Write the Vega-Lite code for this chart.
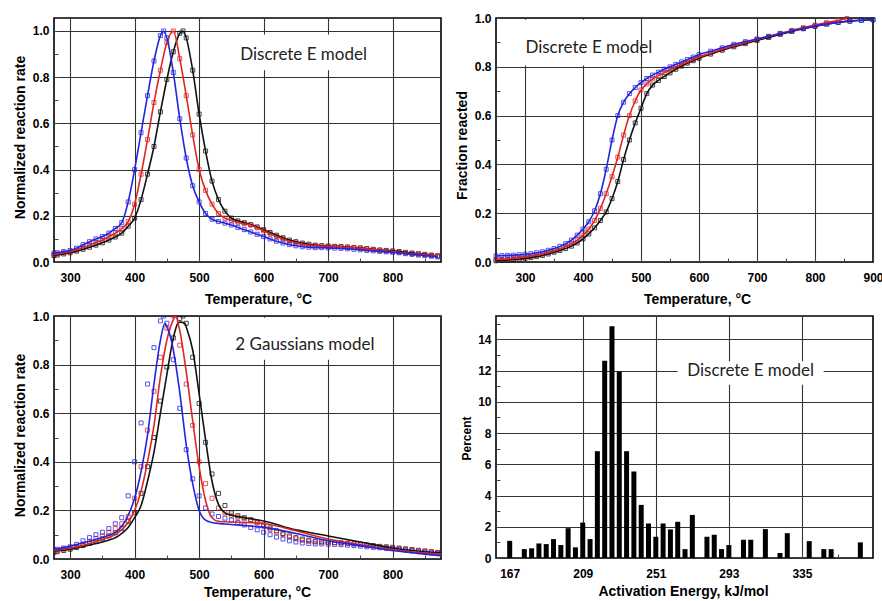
{
  "$schema": "https://vega.github.io/schema/vega-lite/v6.json",
  "background": "white",
  "padding": {"left": 12, "top": 11, "right": 5, "bottom": 5},
  "bounds": "flush",
  "columns": 2,
  "spacing": {"row": 54, "column": 55},
  "config": {
    "view": {"stroke": "#000", "strokeWidth": 1.6},
    "axis": {
      "labelFont": "Liberation Sans", "labelFontWeight": "bold", "labelFontSize": 12, "labelColor": "#000",
      "titleFont": "Liberation Sans", "titleFontWeight": "bold", "titleFontSize": 14, "titleColor": "#000",
      "domain": false, "grid": true, "gridColor": "#333333", "gridWidth": 1.1,
      "ticks": true, "tickSize": -4, "tickColor": "#444", "tickWidth": 1, "tickCount": 100,
      "labelFlush": false, "labelOverlap": false
    },
    "axisX": {"labelPadding": 14},
    "axisY": {"labelPadding": 9}
  },
  "datasets": {
    "exp": [
      {"T": 275, "B": 0.038, "R": 0.033, "K": 0.028},
      {"T": 280, "B": 0.04, "R": 0.035, "K": 0.03},
      {"T": 290, "B": 0.045, "R": 0.04, "K": 0.035},
      {"T": 300, "B": 0.05, "R": 0.045, "K": 0.04},
      {"T": 310, "B": 0.06, "R": 0.052, "K": 0.047},
      {"T": 320, "B": 0.075, "R": 0.062, "K": 0.055},
      {"T": 330, "B": 0.088, "R": 0.073, "K": 0.064},
      {"T": 340, "B": 0.1, "R": 0.085, "K": 0.073},
      {"T": 350, "B": 0.11, "R": 0.095, "K": 0.083},
      {"T": 360, "B": 0.125, "R": 0.11, "K": 0.095},
      {"T": 370, "B": 0.145, "R": 0.125, "K": 0.108},
      {"T": 380, "B": 0.17, "R": 0.145, "K": 0.125},
      {"T": 390, "B": 0.26, "R": 0.175, "K": 0.155},
      {"T": 400, "B": 0.4, "R": 0.25, "K": 0.19},
      {"T": 410, "B": 0.56, "R": 0.38, "K": 0.27},
      {"T": 420, "B": 0.72, "R": 0.53, "K": 0.38},
      {"T": 430, "B": 0.87, "R": 0.69, "K": 0.5},
      {"T": 440, "B": 0.98, "R": 0.83, "K": 0.65},
      {"T": 445, "B": 1.0},
      {"T": 450, "B": 0.97, "R": 0.95, "K": 0.79},
      {"T": 460, "B": 0.82, "R": 1.0, "K": 0.91},
      {"T": 470, "B": 0.62, "R": 0.88, "K": 0.99},
      {"T": 475, "K": 1.0},
      {"T": 480, "B": 0.45, "R": 0.72, "K": 0.97},
      {"T": 490, "B": 0.33, "R": 0.55, "K": 0.83},
      {"T": 500, "B": 0.26, "R": 0.4, "K": 0.64},
      {"T": 510, "B": 0.21, "R": 0.31, "K": 0.48},
      {"T": 520, "B": 0.185, "R": 0.25, "K": 0.35},
      {"T": 530, "B": 0.175, "R": 0.21, "K": 0.27},
      {"T": 540, "B": 0.168, "R": 0.19, "K": 0.22},
      {"T": 550, "B": 0.16, "R": 0.18, "K": 0.19},
      {"T": 560, "B": 0.15, "R": 0.172, "K": 0.178},
      {"T": 570, "B": 0.14, "R": 0.165, "K": 0.17},
      {"T": 580, "B": 0.13, "R": 0.16, "K": 0.162},
      {"T": 590, "B": 0.12, "R": 0.148, "K": 0.152},
      {"T": 600, "B": 0.11, "R": 0.135, "K": 0.14},
      {"T": 610, "B": 0.1, "R": 0.122, "K": 0.128},
      {"T": 620, "B": 0.09, "R": 0.11, "K": 0.116},
      {"T": 630, "B": 0.082, "R": 0.1, "K": 0.105},
      {"T": 640, "B": 0.075, "R": 0.09, "K": 0.095},
      {"T": 650, "B": 0.07, "R": 0.083, "K": 0.088},
      {"T": 660, "B": 0.066, "R": 0.077, "K": 0.082},
      {"T": 670, "B": 0.064, "R": 0.073, "K": 0.077},
      {"T": 680, "B": 0.062, "R": 0.07, "K": 0.073},
      {"T": 690, "B": 0.062, "R": 0.069, "K": 0.071},
      {"T": 700, "B": 0.061, "R": 0.068, "K": 0.069},
      {"T": 710, "B": 0.06, "R": 0.067, "K": 0.068},
      {"T": 720, "B": 0.059, "R": 0.066, "K": 0.067},
      {"T": 730, "B": 0.057, "R": 0.064, "K": 0.065},
      {"T": 740, "B": 0.055, "R": 0.062, "K": 0.063},
      {"T": 750, "B": 0.053, "R": 0.06, "K": 0.061},
      {"T": 760, "B": 0.05, "R": 0.057, "K": 0.058},
      {"T": 770, "B": 0.048, "R": 0.054, "K": 0.055},
      {"T": 780, "B": 0.046, "R": 0.051, "K": 0.052},
      {"T": 790, "B": 0.044, "R": 0.048, "K": 0.05},
      {"T": 800, "B": 0.042, "R": 0.045, "K": 0.048},
      {"T": 810, "B": 0.04, "R": 0.042, "K": 0.045},
      {"T": 820, "B": 0.036, "R": 0.039, "K": 0.042},
      {"T": 830, "B": 0.033, "R": 0.036, "K": 0.039},
      {"T": 840, "B": 0.03, "R": 0.034, "K": 0.036},
      {"T": 850, "B": 0.028, "R": 0.032, "K": 0.033},
      {"T": 860, "B": 0.025, "R": 0.029, "K": 0.03},
      {"T": 870, "B": 0.022, "R": 0.026, "K": 0.027}
    ],
    "g2": [
      {"T": 275, "B": 0.038, "R": 0.035, "K": 0.033},
      {"T": 300, "B": 0.053, "R": 0.045, "K": 0.04},
      {"T": 325, "B": 0.07, "R": 0.06, "K": 0.055},
      {"T": 350, "B": 0.088, "R": 0.08, "K": 0.07},
      {"T": 375, "B": 0.12, "R": 0.11, "K": 0.095},
      {"T": 390, "B": 0.18, "R": 0.15, "K": 0.13},
      {"T": 400, "B": 0.25, "R": 0.2, "K": 0.17},
      {"T": 410, "B": 0.36, "R": 0.28, "K": 0.22},
      {"T": 420, "B": 0.51, "R": 0.4, "K": 0.32},
      {"T": 430, "B": 0.72, "R": 0.55, "K": 0.44},
      {"T": 440, "B": 0.9, "R": 0.75, "K": 0.6},
      {"T": 447, "B": 0.97},
      {"T": 450, "B": 0.955, "R": 0.9, "K": 0.76},
      {"T": 455, "B": 0.92},
      {"T": 460, "B": 0.86, "R": 0.985, "K": 0.91},
      {"T": 463, "R": 1.0},
      {"T": 467, "K": 0.97},
      {"T": 470, "B": 0.685, "R": 0.94, "K": 0.975},
      {"T": 478, "K": 0.97},
      {"T": 480, "B": 0.47, "R": 0.77, "K": 0.955},
      {"T": 490, "B": 0.31, "R": 0.57, "K": 0.86},
      {"T": 500, "B": 0.2, "R": 0.38, "K": 0.68},
      {"T": 510, "B": 0.16, "R": 0.24, "K": 0.49},
      {"T": 520, "B": 0.15, "R": 0.17, "K": 0.32},
      {"T": 530, "B": 0.146, "R": 0.155, "K": 0.225},
      {"T": 540, "B": 0.144, "R": 0.153, "K": 0.19},
      {"T": 550, "B": 0.142, "R": 0.152, "K": 0.18},
      {"T": 575, "B": 0.137, "R": 0.15, "K": 0.168},
      {"T": 600, "B": 0.13, "R": 0.146, "K": 0.156},
      {"T": 650, "B": 0.105, "R": 0.116, "K": 0.12},
      {"T": 700, "B": 0.075, "R": 0.082, "K": 0.095},
      {"T": 750, "B": 0.055, "R": 0.058, "K": 0.07},
      {"T": 800, "B": 0.035, "R": 0.038, "K": 0.045},
      {"T": 850, "B": 0.02, "R": 0.025, "K": 0.03},
      {"T": 875, "B": 0.014, "R": 0.02, "K": 0.025}
    ],
    "frac": [
      {"T": 250, "B": 0.025, "R": 0.01, "K": 0.005},
      {"T": 260, "B": 0.026, "R": 0.011, "K": 0.006},
      {"T": 270, "B": 0.027, "R": 0.013, "K": 0.008},
      {"T": 280, "B": 0.028, "R": 0.015, "K": 0.01},
      {"T": 290, "B": 0.03, "R": 0.018, "K": 0.012},
      {"T": 300, "B": 0.032, "R": 0.021, "K": 0.015},
      {"T": 310, "B": 0.034, "R": 0.024, "K": 0.018},
      {"T": 320, "B": 0.038, "R": 0.028, "K": 0.022},
      {"T": 330, "B": 0.042, "R": 0.033, "K": 0.027},
      {"T": 340, "B": 0.048, "R": 0.039, "K": 0.033},
      {"T": 350, "B": 0.055, "R": 0.045, "K": 0.04},
      {"T": 360, "B": 0.064, "R": 0.053, "K": 0.047},
      {"T": 370, "B": 0.075, "R": 0.063, "K": 0.055},
      {"T": 380, "B": 0.09, "R": 0.075, "K": 0.065},
      {"T": 390, "B": 0.11, "R": 0.09, "K": 0.078},
      {"T": 400, "B": 0.135, "R": 0.11, "K": 0.095},
      {"T": 410, "B": 0.165, "R": 0.135, "K": 0.115},
      {"T": 420, "B": 0.21, "R": 0.17, "K": 0.14},
      {"T": 430, "B": 0.28, "R": 0.22, "K": 0.17},
      {"T": 440, "B": 0.38, "R": 0.28, "K": 0.205},
      {"T": 450, "B": 0.5, "R": 0.35, "K": 0.26},
      {"T": 460, "B": 0.6, "R": 0.43, "K": 0.33},
      {"T": 470, "B": 0.655, "R": 0.52, "K": 0.42},
      {"T": 480, "B": 0.69, "R": 0.6, "K": 0.5},
      {"T": 490, "B": 0.715, "R": 0.66, "K": 0.57},
      {"T": 500, "B": 0.735, "R": 0.705, "K": 0.63},
      {"T": 510, "B": 0.752, "R": 0.73, "K": 0.69},
      {"T": 520, "B": 0.766, "R": 0.75, "K": 0.725},
      {"T": 530, "B": 0.778, "R": 0.764, "K": 0.744},
      {"T": 540, "B": 0.79, "R": 0.776, "K": 0.76},
      {"T": 550, "B": 0.8, "R": 0.788, "K": 0.775},
      {"T": 560, "B": 0.81, "R": 0.8, "K": 0.79},
      {"T": 570, "B": 0.82, "R": 0.81, "K": 0.803},
      {"T": 580, "B": 0.83, "R": 0.82, "K": 0.815},
      {"T": 590, "B": 0.84, "R": 0.83, "K": 0.825},
      {"T": 600, "B": 0.85, "R": 0.84, "K": 0.835},
      {"T": 620, "B": 0.864, "R": 0.856, "K": 0.852},
      {"T": 640, "B": 0.878, "R": 0.872, "K": 0.868},
      {"T": 660, "B": 0.892, "R": 0.886, "K": 0.882},
      {"T": 680, "B": 0.903, "R": 0.899, "K": 0.895},
      {"T": 700, "B": 0.914, "R": 0.912, "K": 0.908},
      {"T": 720, "B": 0.925, "R": 0.924, "K": 0.92},
      {"T": 740, "B": 0.936, "R": 0.937, "K": 0.933},
      {"T": 760, "B": 0.947, "R": 0.949, "K": 0.945},
      {"T": 780, "B": 0.957, "R": 0.96, "K": 0.956},
      {"T": 800, "B": 0.967, "R": 0.971, "K": 0.966},
      {"T": 820, "B": 0.975, "R": 0.981, "K": 0.975},
      {"T": 840, "B": 0.982, "R": 0.99, "K": 0.982},
      {"T": 855, "R": 0.998},
      {"T": 860, "B": 0.988, "K": 0.987},
      {"T": 880, "B": 0.991, "K": 0.991},
      {"T": 900, "B": 0.993, "K": 0.993}
    ],
    "hist": [
      {"E": 167, "p": 1.1}, {"E": 175.4, "p": 0.57}, {"E": 179.6, "p": 0.62}, {"E": 183.8, "p": 0.93},
      {"E": 188, "p": 0.89}, {"E": 192.2, "p": 1.21}, {"E": 196.4, "p": 0.83}, {"E": 200.6, "p": 1.91},
      {"E": 204.8, "p": 0.68}, {"E": 209, "p": 2.27}, {"E": 213.2, "p": 1.21}, {"E": 217.4, "p": 6.84},
      {"E": 221.6, "p": 12.64}, {"E": 225.8, "p": 14.85}, {"E": 230, "p": 11.94}, {"E": 234.2, "p": 6.84},
      {"E": 238.4, "p": 5.54}, {"E": 242.6, "p": 3.4}, {"E": 246.8, "p": 2.21}, {"E": 251, "p": 1.36},
      {"E": 255.2, "p": 2.21}, {"E": 259.4, "p": 1.83}, {"E": 263.6, "p": 2.32}, {"E": 267.8, "p": 0.57},
      {"E": 272, "p": 2.76}, {"E": 280.4, "p": 1.36}, {"E": 284.6, "p": 1.49}, {"E": 288.8, "p": 0.57},
      {"E": 293, "p": 0.83}, {"E": 301.4, "p": 1.17}, {"E": 305.6, "p": 1.17}, {"E": 314, "p": 1.85},
      {"E": 322.4, "p": 0.32}, {"E": 326.6, "p": 1.59}, {"E": 339.2, "p": 1.08}, {"E": 347.6, "p": 0.57},
      {"E": 351.8, "p": 0.57}, {"E": 368.6, "p": 1.0}
    ]
  },
  "concat": [
    {
      "width": 387, "height": 244,
      "layer": [
        {
          "data": {"values": [{}]},
          "mark": {"type": "rect", "fill": "white"},
          "encoding": {
            "x": {"datum": 560, "type": "quantitative", "title": "Temperature, °C",
              "scale": {"domain": [275, 875], "nice": false, "zero": false},
              "axis": {"values": [300, 350, 400, 450, 500, 550, 600, 650, 700, 750, 800, 850],
                "tickCount": 100, "labelOverlap": false, "format": "d",
                "labelExpr": "datum.value % 100 === 0 ? datum.label : ''",
                "gridOpacity": {"condition": {"test": "datum.value % 100 === 0", "value": 1}, "value": 0},
                "titleX": 204, "titleY": 30, "titleBaseline": "top", "titleAlign": "center"}},
            "x2": {"datum": 775},
            "y": {"datum": 0.83, "type": "quantitative", "title": "Normalized reaction rate",
              "scale": {"domain": [0, 1.056], "nice": false, "zero": false},
              "axis": {"values": [0, 0.1, 0.2, 0.3, 0.4, 0.5, 0.6, 0.7, 0.8, 0.9, 1.0],
                "tickCount": 100, "labelOverlap": false,
                "labelExpr": "round(datum.value * 10) % 2 === 0 ? format(datum.value, '.1f') : ''",
                "gridOpacity": {"condition": {"test": "round(datum.value * 10) % 2 === 0", "value": 1}, "value": 0},
                "titleX": -34, "titleY": 119, "titleAngle": 270, "titleBaseline": "middle", "titleAlign": "center"}},
            "y2": {"datum": 0.985}
          }
        },
        {
          "data": {"name": "exp"},
          "transform": [{"fold": ["K", "R", "B"], "as": ["s", "v"]}, {"filter": "isValid(datum.v)"}],
          "mark": {"type": "point", "shape": "square", "filled": false, "size": 16, "strokeWidth": 0.9, "opacity": 0.85},
          "encoding": {
            "x": {"field": "T", "type": "quantitative", "title": "Temperature, °C"},
            "y": {"field": "v", "type": "quantitative", "title": "Normalized reaction rate"},
            "color": {"field": "s", "type": "nominal", "legend": null,
              "scale": {"domain": ["K", "R", "B"], "range": ["#111111", "#e02424", "#2424e0"]}}
          }
        },
        {
          "data": {"name": "exp"},
          "transform": [{"fold": ["K", "R", "B"], "as": ["s", "v"]}, {"filter": "isValid(datum.v)"}],
          "mark": {"type": "line", "interpolate": "monotone", "strokeWidth": 1.6},
          "encoding": {
            "x": {"field": "T", "type": "quantitative", "title": "Temperature, °C"},
            "y": {"field": "v", "type": "quantitative", "title": "Normalized reaction rate"},
            "color": {"field": "s", "type": "nominal", "legend": null}
          }
        },
        {
          "data": {"values": [{}]},
          "mark": {"type": "text", "font": "Lato", "fontSize": 17, "color": "#222", "align": "center", "baseline": "middle"},
          "encoding": {
            "x": {"datum": 662, "type": "quantitative"},
            "y": {"datum": 0.896, "type": "quantitative"},
            "text": {"value": "Discrete E model"}
          }
        }
      ]
    },
    {
      "width": 377, "height": 244,
      "layer": [
        {
          "data": {"values": [{}]},
          "mark": {"type": "rect", "fill": "white"},
          "encoding": {
            "x": {"datum": 262, "type": "quantitative", "title": "Temperature, °C",
              "scale": {"domain": [250, 900], "nice": false, "zero": false},
              "axis": {"values": [250, 300, 350, 400, 450, 500, 550, 600, 650, 700, 750, 800, 850, 900],
                "tickCount": 100, "labelOverlap": false, "format": "d",
                "labelExpr": "datum.value % 100 === 0 ? datum.label : ''",
                "gridOpacity": {"condition": {"test": "datum.value % 100 === 0", "value": 1}, "value": 0},
                "titleX": 201, "titleY": 30, "titleBaseline": "top", "titleAlign": "center"}},
            "x2": {"datum": 480},
            "y": {"datum": 0.805, "type": "quantitative", "title": "Fraction reacted",
              "scale": {"domain": [0, 1], "nice": false, "zero": false},
              "axis": {"values": [0, 0.1, 0.2, 0.3, 0.4, 0.5, 0.6, 0.7, 0.8, 0.9, 1.0],
                "tickCount": 100, "labelOverlap": false,
                "labelExpr": "round(datum.value * 10) % 2 === 0 ? format(datum.value, '.1f') : ''",
                "gridOpacity": {"condition": {"test": "round(datum.value * 10) % 2 === 0", "value": 1}, "value": 0},
                "titleX": -34, "titleY": 127, "titleAngle": 270, "titleBaseline": "middle", "titleAlign": "center"}},
            "y2": {"datum": 0.993}
          }
        },
        {
          "data": {"name": "frac"},
          "transform": [{"fold": ["K", "R", "B"], "as": ["s", "v"]}, {"filter": "isValid(datum.v)"}],
          "mark": {"type": "point", "shape": "square", "filled": false, "size": 16, "strokeWidth": 0.9, "opacity": 0.85},
          "encoding": {
            "x": {"field": "T", "type": "quantitative", "title": "Temperature, °C"},
            "y": {"field": "v", "type": "quantitative", "title": "Fraction reacted"},
            "color": {"field": "s", "type": "nominal", "legend": null,
              "scale": {"domain": ["K", "R", "B"], "range": ["#111111", "#e02424", "#2424e0"]}}
          }
        },
        {
          "data": {"name": "frac"},
          "transform": [{"fold": ["K", "R", "B"], "as": ["s", "v"]}, {"filter": "isValid(datum.v)"}],
          "mark": {"type": "line", "interpolate": "monotone", "strokeWidth": 1.6},
          "encoding": {
            "x": {"field": "T", "type": "quantitative", "title": "Temperature, °C"},
            "y": {"field": "v", "type": "quantitative", "title": "Fraction reacted"},
            "color": {"field": "s", "type": "nominal", "legend": null}
          }
        },
        {
          "data": {"values": [{}]},
          "mark": {"type": "text", "font": "Lato", "fontSize": 17, "color": "#222", "align": "center", "baseline": "middle"},
          "encoding": {
            "x": {"datum": 410, "type": "quantitative"},
            "y": {"datum": 0.879, "type": "quantitative"},
            "text": {"value": "Discrete E model"}
          }
        }
      ]
    },
    {
      "width": 387, "height": 243,
      "layer": [
        {
          "data": {"values": [{}]},
          "mark": {"type": "rect", "fill": "white"},
          "encoding": {
            "x": {"datum": 560, "type": "quantitative", "title": "Temperature, °C",
              "scale": {"domain": [275, 875], "nice": false, "zero": false},
              "axis": {"values": [300, 350, 400, 450, 500, 550, 600, 650, 700, 750, 800, 850],
                "tickCount": 100, "labelOverlap": false, "format": "d",
                "labelExpr": "datum.value % 100 === 0 ? datum.label : ''",
                "gridOpacity": {"condition": {"test": "datum.value % 100 === 0", "value": 1}, "value": 0},
                "titleX": 203, "titleY": 26, "titleBaseline": "top", "titleAlign": "center"}},
            "x2": {"datum": 775},
            "y": {"datum": 0.82, "type": "quantitative", "title": "Normalized reaction rate",
              "scale": {"domain": [0, 1], "nice": false, "zero": false},
              "axis": {"values": [0, 0.1, 0.2, 0.3, 0.4, 0.5, 0.6, 0.7, 0.8, 0.9, 1.0],
                "tickCount": 100, "labelOverlap": false,
                "labelExpr": "round(datum.value * 10) % 2 === 0 ? format(datum.value, '.1f') : ''",
                "gridOpacity": {"condition": {"test": "round(datum.value * 10) % 2 === 0", "value": 1}, "value": 0},
                "titleX": -34, "titleY": 119, "titleAngle": 270, "titleBaseline": "middle", "titleAlign": "center"}},
            "y2": {"datum": 0.993}
          }
        },
        {
          "data": {"name": "exp"},
          "transform": [{"fold": ["K", "R", "B"], "as": ["s", "v"]}, {"filter": "isValid(datum.v)"}],
          "mark": {"type": "point", "shape": "square", "filled": false, "size": 16, "strokeWidth": 0.9, "opacity": 0.85, "clip": true},
          "encoding": {
            "x": {"field": "T", "type": "quantitative", "title": "Temperature, °C"},
            "y": {"field": "v", "type": "quantitative", "title": "Normalized reaction rate"},
            "color": {"field": "s", "type": "nominal", "legend": null,
              "scale": {"domain": ["K", "R", "B"], "range": ["#111111", "#e02424", "#2424e0"]}}
          }
        },
        {
          "data": {"name": "g2"},
          "transform": [{"fold": ["K", "R", "B"], "as": ["s", "v"]}, {"filter": "isValid(datum.v)"}],
          "mark": {"type": "line", "interpolate": "monotone", "strokeWidth": 1.6},
          "encoding": {
            "x": {"field": "T", "type": "quantitative", "title": "Temperature, °C"},
            "y": {"field": "v", "type": "quantitative", "title": "Normalized reaction rate"},
            "color": {"field": "s", "type": "nominal", "legend": null}
          }
        },
        {
          "data": {"values": [{}]},
          "mark": {"type": "text", "font": "Lato", "fontSize": 17, "color": "#222", "align": "center", "baseline": "middle"},
          "encoding": {
            "x": {"datum": 664, "type": "quantitative"},
            "y": {"datum": 0.881, "type": "quantitative"},
            "text": {"value": "2 Gaussians model"}
          }
        }
      ]
    },
    {
      "width": 377, "height": 242,
      "layer": [
        {
          "data": {"values": [{}]},
          "mark": {"type": "rect", "fill": "white"},
          "encoding": {
            "x": {"datum": 263.5, "type": "quantitative", "title": "Activation Energy, kJ/mol",
              "scale": {"domain": [162, 373], "nice": false, "zero": false},
              "axis": {"values": [167, 188, 209, 230, 251, 272, 293, 314, 335, 356],
                "tickCount": 100, "labelOverlap": false, "format": "d",
                "labelExpr": "(datum.value - 167) % 42 === 0 ? datum.label : ''",
                "gridOpacity": {"condition": {"test": "(datum.value - 167) % 42 === 0 && datum.value > 170", "value": 1}, "value": 0},
                "titleX": 187, "titleY": 26, "titleBaseline": "top", "titleAlign": "center"}},
            "x2": {"datum": 347.5},
            "y": {"datum": 11.1, "type": "quantitative", "title": "Percent",
              "scale": {"domain": [0, 15.5], "nice": false, "zero": false},
              "axis": {"values": [0, 1, 2, 3, 4, 5, 6, 7, 8, 9, 10, 11, 12, 13, 14, 15],
                "tickCount": 100, "labelOverlap": false, "format": "d",
                "labelExpr": "datum.value % 2 === 0 ? datum.label : ''",
                "gridOpacity": {"condition": {"test": "datum.value % 2 === 0", "value": 1}, "value": 0},
                "titleFontSize": 12,
                "titleX": -30, "titleY": 122, "titleAngle": 270, "titleBaseline": "middle", "titleAlign": "center"}},
            "y2": {"datum": 12.6}
          }
        },
        {
          "data": {"name": "hist"},
          "mark": {"type": "bar", "size": 5, "color": "#000"},
          "encoding": {
            "x": {"field": "E", "type": "quantitative", "title": "Activation Energy, kJ/mol"},
            "y": {"field": "p", "type": "quantitative", "title": "Percent"}
          }
        },
        {
          "data": {"values": [{}]},
          "mark": {"type": "text", "font": "Lato", "fontSize": 17, "color": "#222", "align": "center", "baseline": "middle"},
          "encoding": {
            "x": {"datum": 305.5, "type": "quantitative"},
            "y": {"datum": 12, "type": "quantitative"},
            "text": {"value": "Discrete E model"}
          }
        }
      ]
    }
  ]
}
